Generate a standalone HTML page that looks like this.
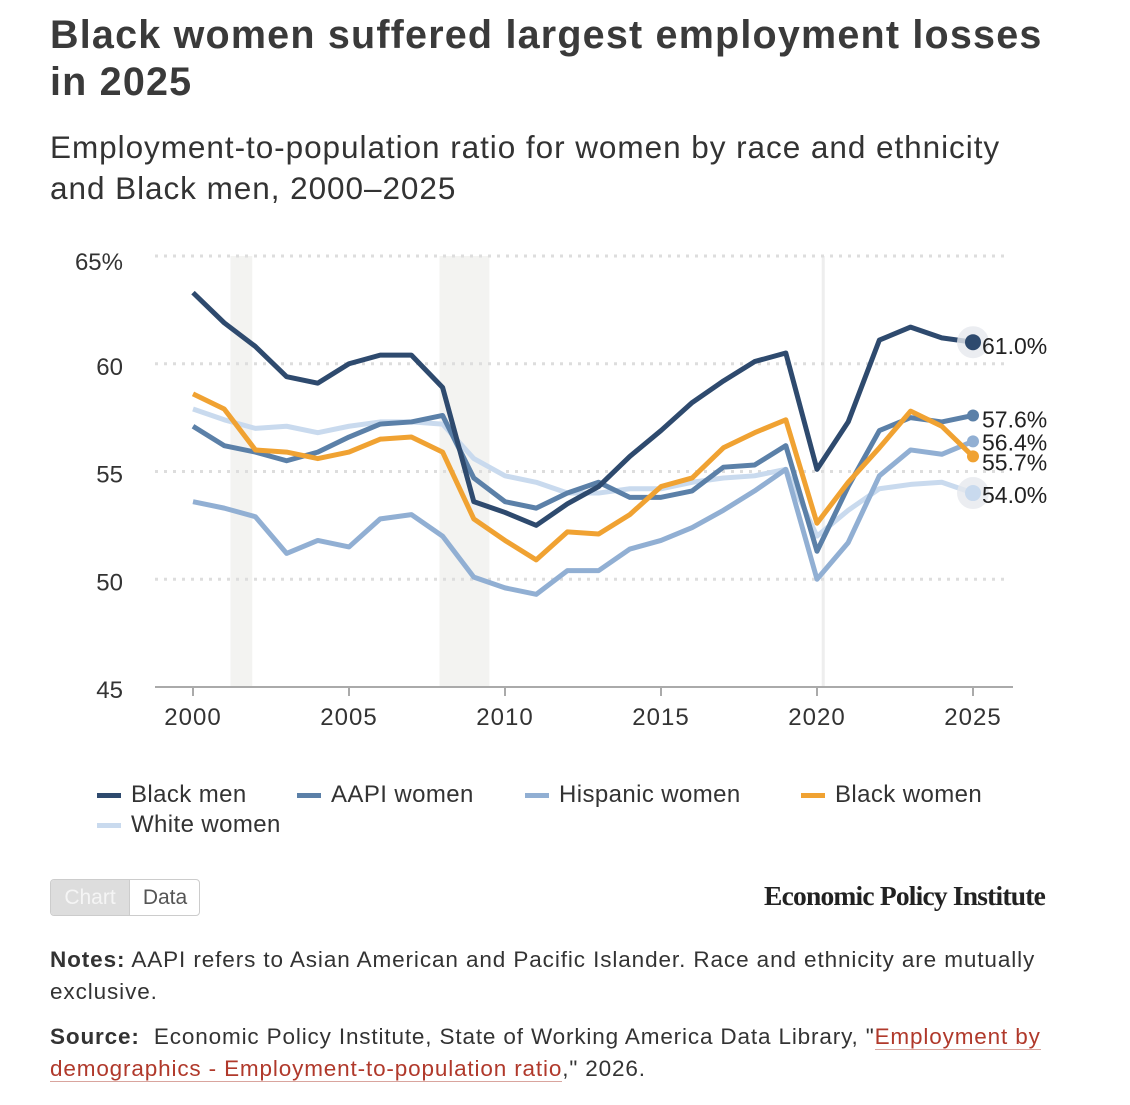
<!DOCTYPE html>
<html><head><meta charset="utf-8">
<style>
body{margin:0;background:#fff;width:1130px;height:1105px;overflow:hidden;position:relative;font-family:"Liberation Sans",sans-serif;color:#333}
.a{position:absolute;white-space:nowrap}
</style></head><body>
<div class="a" style="left:50px;top:12px;font-size:39.5px;letter-spacing:1.2px;font-weight:bold;line-height:47px;color:#3a3a3a">Black women suffered largest employment losses<br>in 2025</div>
<div class="a" style="left:50px;top:127px;font-size:31.5px;letter-spacing:0.95px;line-height:41px;color:#333">Employment-to-population ratio for women by race and ethnicity<br>and Black men, 2000–2025</div>
<svg id="chart" class="a" style="left:0;top:0" width="1130" height="760"></svg>
<div class="a" style="left:97px;top:780px;font-size:24px;letter-spacing:0.4px;line-height:30px">
<span style="position:absolute;left:0;top:0"><i style="display:inline-block;width:24px;height:5px;background:#2e4a6e;vertical-align:middle;margin-right:10px"></i>Black men</span>
<span style="position:absolute;left:200px;top:0"><i style="display:inline-block;width:24px;height:5px;background:#5b80a8;vertical-align:middle;margin-right:10px"></i>AAPI women</span>
<span style="position:absolute;left:428px;top:0"><i style="display:inline-block;width:24px;height:5px;background:#91afd3;vertical-align:middle;margin-right:10px"></i>Hispanic women</span>
<span style="position:absolute;left:704px;top:0"><i style="display:inline-block;width:24px;height:5px;background:#f0a232;vertical-align:middle;margin-right:10px"></i>Black women</span>
<span style="position:absolute;left:0;top:30px"><i style="display:inline-block;width:24px;height:5px;background:#c9daee;vertical-align:middle;margin-right:10px"></i>White women</span>
</div>
<div class="a" style="left:50px;top:879px;width:148px;height:35px;border:1px solid #ccc;border-radius:4px;overflow:hidden;font-size:21px;line-height:35px">
<span style="position:absolute;left:0;top:0;width:78px;height:35px;background:#ddd;color:#f5f5f5;text-align:center">Chart</span>
<span style="position:absolute;left:78px;top:0;width:70px;height:35px;color:#555;text-align:center;border-left:1px solid #ccc">Data</span>
</div>
<div class="a" style="right:85px;top:880px;font-family:'Liberation Serif',serif;font-weight:bold;font-size:27.5px;letter-spacing:-0.8px;color:#222">Economic Policy Institute</div>
<div class="a" style="left:50px;top:944px;font-size:22.5px;letter-spacing:0.9px;line-height:32px;color:#333"><b>Notes:</b> AAPI refers to Asian American and Pacific Islander. Race and ethnicity are mutually<br>exclusive.</div>
<div class="a" style="left:50px;top:1021px;font-size:22.5px;letter-spacing:0.85px;line-height:32px;color:#333"><b>Source:</b>&nbsp; Economic Policy Institute, State of Working America Data Library, "<span style="color:#b0392b;border-bottom:1px solid #d9a59e">Employment by<br>demographics - Employment-to-population ratio</span>," 2026.</div>
<script>
const years=[2000,2001,2002,2003,2004,2005,2006,2007,2008,2009,2010,2011,2012,2013,2014,2015,2016,2017,2018,2019,2020,2021,2022,2023,2024,2025];
const blackMen=[63.3,61.9,60.8,59.4,59.1,60.0,60.4,60.4,58.9,53.6,53.1,52.5,53.5,54.3,55.7,56.9,58.2,59.2,60.1,60.5,55.1,57.3,61.1,61.7,61.2,61.0];
const aapiWomen=[57.1,56.2,55.9,55.5,55.9,56.6,57.2,57.3,57.6,54.7,53.6,53.3,54.0,54.5,53.8,53.8,54.1,55.2,55.3,56.2,51.3,54.3,56.9,57.5,57.3,57.6];
const hispanicWomen=[53.6,53.3,52.9,51.2,51.8,51.5,52.8,53.0,52.0,50.1,49.6,49.3,50.4,50.4,51.4,51.8,52.4,53.2,54.1,55.1,50.0,51.7,54.8,56.0,55.8,56.4];
const blackWomen=[58.6,57.9,56.0,55.9,55.6,55.9,56.5,56.6,55.9,52.8,51.8,50.9,52.2,52.1,53.0,54.3,54.7,56.1,56.8,57.4,52.6,54.5,56.1,57.8,57.1,55.7];
const whiteWomen=[57.9,57.4,57.0,57.1,56.8,57.1,57.3,57.3,57.2,55.6,54.8,54.5,54.0,54.0,54.2,54.2,54.5,54.7,54.8,55.1,52.0,53.2,54.2,54.4,54.5,54.0];
const yTicks=[45,50,55,60,65];
const yTickLabels=["45","50","55","60","65%"];
const xTicks=[2000,2005,2010,2015,2020,2025];
const recessions=[[2001.2,2001.9],[2007.9,2009.5]];
const series=[
 {name:"white-women",data:whiteWomen,color:"#c9daee",label:"54.0%",big:true},
 {name:"hispanic-women",data:hispanicWomen,color:"#91afd3",label:"56.4%"},
 {name:"aapi-women",data:aapiWomen,color:"#5b80a8",label:"57.6%"},
 {name:"black-women",data:blackWomen,color:"#f0a232",label:"55.7%"},
 {name:"black-men",data:blackMen,color:"#2e4a6e",label:"61.0%",big:true}
];
const X=y=>193+(y-2000)*31.2;
const Y=v=>687-(v-45)*21.55;
const svg=document.getElementById('chart');
const NS="http://www.w3.org/2000/svg";
function mk(t,a){const e=document.createElementNS(NS,t);for(const k in a)e.setAttribute(k,a[k]);svg.appendChild(e);return e;}
recessions.forEach(r=>{
 const e=mk('rect',{x:X(r[0]),y:256,width:X(r[1])-X(r[0]),height:431,fill:'#f3f3f1'});
 
 
});
const cv=mk('line',{x1:X(2020.2),x2:X(2020.2),y1:256,y2:687,stroke:'#eee','stroke-width':3});


yTicks.forEach((t,i)=>{
 if(t>45){const g=mk('line',{x1:155,x2:1010,y1:Y(t),y2:Y(t),stroke:'#ddd','stroke-width':3,'stroke-dasharray':'3 6'});
 
 }
 const tx=mk('text',{x:123,y:Y(t)+(t==65?14:11),'text-anchor':'end','font-size':24,fill:'#333','font-family':'Liberation Sans'});
 tx.textContent=yTickLabels[i];
 
 
});
const ax=mk('line',{x1:155,x2:1013,y1:687,y2:687,stroke:'#aaa','stroke-width':2});


xTicks.forEach(t=>{
 mk('line',{x1:X(t),x2:X(t),y1:687,y2:696,stroke:'#aaa','stroke-width':2});
 const tx=mk('text',{x:X(t),y:725,'text-anchor':'middle','font-size':24,'letter-spacing':1,fill:'#333','font-family':'Liberation Sans'});
 tx.textContent=t;
 
 
});
const labelY={"black-men":4,"aapi-women":4,"hispanic-women":1,"black-women":6,"white-women":2};
series.forEach(s=>{
 const p=mk('polyline',{points:s.data.map((v,i)=>X(years[i])+','+Y(v)).join(' '),fill:'none',stroke:s.color,'stroke-width':5,'stroke-linejoin':'round'});
 
 
 const last=s.data[s.data.length-1],lx=X(2025),ly=Y(last);
 if(s.big){mk('circle',{cx:lx,cy:ly,r:16,fill:'#e6e9ee',opacity:0.8});}
 const c=mk('circle',{cx:lx,cy:ly,r:s.big?8:6,fill:s.color});
 
 
 const t=mk('text',{x:lx+9,y:ly+8+labelY[s.name],'font-size':23,fill:'#222','font-family':'Liberation Sans'});
 t.textContent=s.label;
 
 
});
</script>
</body></html>
